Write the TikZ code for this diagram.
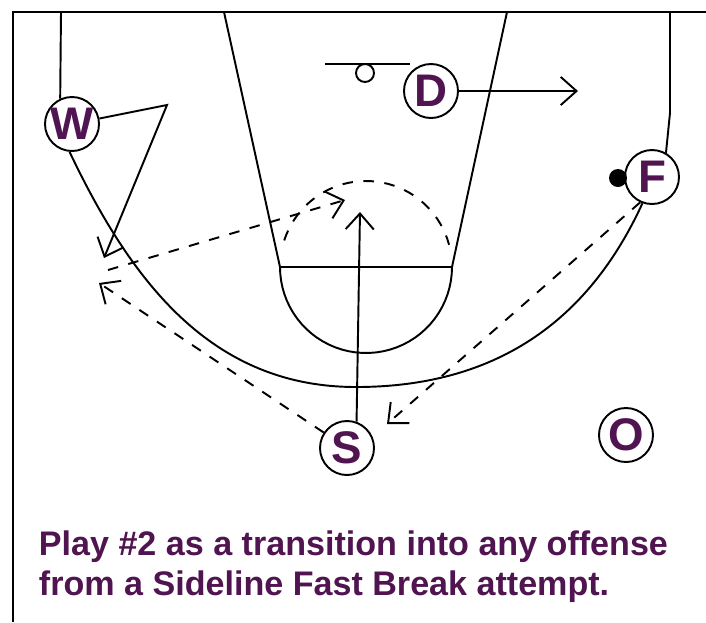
\documentclass[tikz,border=0pt]{standalone}
\usepackage{fontspec}
\setmainfont{Liberation Sans}
\definecolor{playtext}{RGB}{80,20,80}
\usetikzlibrary{calc,arrows.meta}
\tikzset{>={Straight Barb[length=4.5pt,width=8pt]}}
\tikzset{
  player/.style = {
    circle, draw, fill=white, inner sep=0pt, minimum size=5.4mm,
    text=playtext, font=\fontsize{13}{13}\selectfont\bfseries
  }
}
\newcommand{\ftx}{366}
\newcommand{\fty}{267}
\newcommand{\ftrad}{86}

\begin{document}
\begin{tikzpicture}[x=0.1mm,y=-0.1mm,line width=0.55pt]
  \tikzstyle{cut}=[->]
  \tikzstyle{pass}=[->, dashed]
  \useasboundingbox (0,0) rectangle (706,622);
  \draw (706,12) -- (13,12) -- (13,622);
  \draw (224,12) -- (280,\fty) -- (452,\fty) -- (507,12);
  \draw plot[domain=0:180,samples=40] ({\ftx+\ftrad*cos(\x)},{\fty+\ftrad*sin(\x)});
  \draw[dashed] plot[domain=198:345,samples=40] ({\ftx+\ftrad*cos(\x)},{\fty+\ftrad*sin(\x)});
  \draw (325,64) -- (410,64);
  \draw (365,73) circle[radius=0.9mm];
  \node[player] (W) at (72,124) {W};
  \node[player] (D) at (431,91) {D};
  \node[player] (F) at (652,177) {F};
  \node[player] (S) at (347,448) {S};
  \node[player] (O) at (626,435) {O};
  \node[circle, fill, inner sep=0pt, minimum size=1.8mm] (ball) at (618,178) {};
  \coordinate (arcbot) at (356,387);
  \draw (61,12) -- (W.115);
  \draw (670,12) -- (670,113) -- (F.60);
  \draw (W.265) .. controls (131,281) and (211,387) .. (arcbot)
                .. controls (495,387) and (588,322) .. (F.250);
  \coordinate (Dgo) at (578,91);
  \coordinate (Wturn) at (167,105);
  \coordinate (Wgo) at (104,258);
  \coordinate (Sgo) at (360,212);
  \coordinate (Wpass) at (108,270);
  \coordinate (Tip) at (345,200);
  \coordinate (Sto) at (99,283);
  \coordinate (Fto) at (387,424);
  \draw[cut] (D) -- (Dgo);
  \draw[cut] (W) -- (Wturn) -- (Wgo);
  \draw[cut] (S.70) -- (Sgo);
  \draw[pass] (Wpass) -- (Tip);
  \draw[pass] (S) -- (Sto);
  \draw[pass] (F.245) -- (Fto);
  \node[anchor=north west, inner sep=0pt, align=left, text=playtext, font=\fontsize{9.7}{11.4}\selectfont\bfseries] (caption) at (38,530) {Play \#2 as a transition into any offense\\from a Sideline Fast Break attempt.};
\end{tikzpicture}
\end{document}
